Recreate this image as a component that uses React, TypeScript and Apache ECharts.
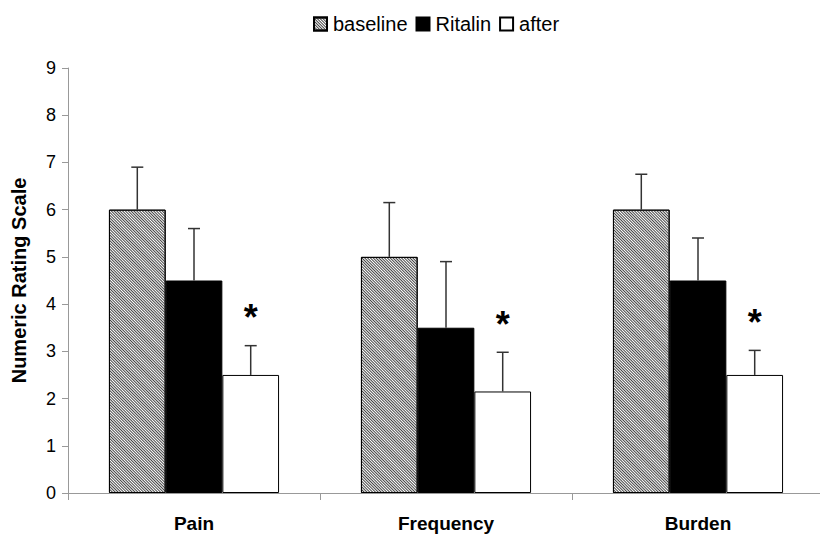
import React, { useEffect, useRef } from "react";
import * as echarts from "echarts";

const categories = ["Pain", "Frequency", "Burden"];
const seriesNames = ["baseline", "Ritalin", "after"];
const baseline = [6, 5, 6];
const ritalin = [4.5, 3.5, 4.5];
const after = [2.5, 2.15, 2.5];
const baselineErrTop = [6.9, 6.15, 6.75];
const ritalinErrTop = [5.6, 4.9, 5.4];
const afterErrTop = [3.12, 2.98, 3.02];
const afterSignificance = ["*", "*", "*"];
const yTicks = [0, 1, 2, 3, 4, 5, 6, 7, 8, 9];

const FONT = "'Liberation Sans', Arial, sans-serif";
const CAT_GAP = 0.325;

export default function App() {
  const ref = useRef<HTMLDivElement>(null);
  useEffect(() => {
    if (!ref.current) return;
    const chart = echarts.init(ref.current, undefined, { renderer: "svg" });
    const values = [baseline, ritalin, after];
    const errTops = [baselineErrTop, ritalinErrTop, afterErrTop];

    const errSeries = values.map((vals, si) => ({
      type: "custom",
      name: seriesNames[si] + "_err",
      silent: true,
      z: 5,
      data: categories.map((_, ci) => [ci, vals[ci], errTops[si][ci]]),
      renderItem: (params: any, api: any) => {
        const ci = api.value(0);
        const bandW = api.size([1, 0])[0];
        const barW = (bandW * (1 - CAT_GAP)) / 3;
        const base = api.coord([ci, api.value(1)]);
        const top = api.coord([ci, api.value(2)]);
        const x = base[0] + (si - 1) * barW;
        const children: any[] = [
          { type: "line", shape: { x1: x, y1: base[1], x2: x, y2: top[1] }, style: { stroke: "#333", lineWidth: 1.5 } },
          { type: "line", shape: { x1: x - 6, y1: top[1], x2: x + 6, y2: top[1] }, style: { stroke: "#333", lineWidth: 1.5 } },
        ];
        const star = si === 2 ? afterSignificance[ci] : "";
        if (star) {
          children.push({
            type: "text",
            style: {
              text: star,
              x: x,
              y: top[1] - 28,
              align: "center",
              verticalAlign: "middle",
              font: `bold 36px ${FONT}`,
              fill: "#000",
            },
          });
        }
        return { type: "group", children };
      },
    }));

    const barColors = ["#ffffff", "#000000", "#ffffff"];
    const barSeries = values.map((vals, si) => ({
      type: "bar",
      name: seriesNames[si],
      data: vals,
      barGap: "0%",
      barCategoryGap: CAT_GAP * 100 + "%",
      z: 2,
      itemStyle: {
        color: barColors[si],
        borderColor: "#000",
        borderWidth: 1,
        decal:
          si === 0
            ? {
                symbol: "rect",
                symbolSize: 1,
                color: "#444",
                dashArrayX: [1, 0],
                dashArrayY: [1, 1],
                rotation: Math.PI / 4,
              }
            : "none",
      },
    }));

    chart.setOption({
      animation: false,
      aria: { enabled: false, decal: { show: true } },
      textStyle: { fontFamily: FONT },
      legend: {
        data: seriesNames,
        top: 9,
        left: 308,
        icon: "rect",
        itemWidth: 13,
        itemHeight: 13,
        itemGap: 8,
        textStyle: { fontSize: 20, color: "#000", fontFamily: FONT, padding: [0, 0, 0, 1] },
      },
      grid: { left: 68, top: 68, right: -4, bottom: 45, outerBoundsMode: "none" },
      xAxis: {
        type: "category",
        data: categories,
        axisLine: { lineStyle: { color: "#999", width: 1 } },
        axisTick: { show: true, length: 7, lineStyle: { color: "#999" } },
        axisLabel: { fontSize: 19, fontWeight: "bold", color: "#000", margin: 21, fontFamily: FONT },
      },
      yAxis: {
        type: "value",
        min: yTicks[0],
        max: yTicks[yTicks.length - 1],
        interval: 1,
        name: "Numeric Rating Scale",
        nameLocation: "middle",
        nameGap: 39,
        nameTextStyle: { fontSize: 20, fontWeight: "bold", color: "#000", fontFamily: FONT },
        axisLine: { show: true, lineStyle: { color: "#999", width: 1 } },
        axisTick: { show: true, length: 6, lineStyle: { color: "#999" } },
        splitLine: { show: false },
        axisLabel: { fontSize: 18, color: "#000", margin: 12, fontFamily: FONT },
      },
      series: [...barSeries, ...errSeries],
    });
    return () => chart.dispose();
  }, []);
  return <div ref={ref} style={{ width: 820, height: 538, position: "absolute", left: 0, top: 0 }} />;
}
